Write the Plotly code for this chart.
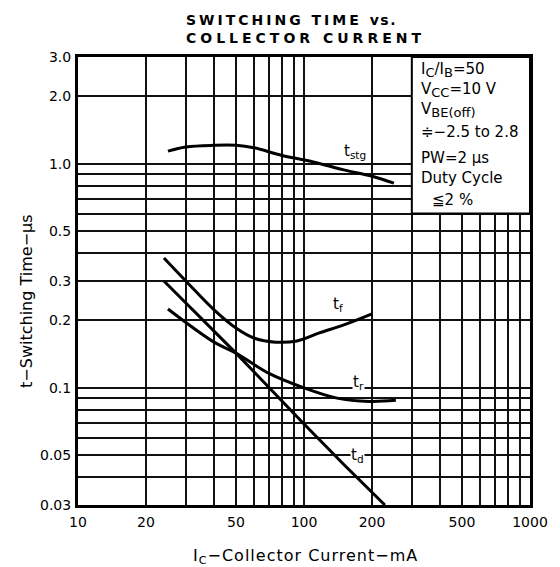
import numpy as np
import plotly.graph_objects as go

# ---- data (Ic in mA, t in microseconds) ----
ic_stg = [25, 30, 40, 50, 60, 80, 110, 150, 200, 250]
t_stg = [1.14, 1.19, 1.21, 1.21, 1.18, 1.09, 1.02, 0.94, 0.88, 0.82]

ic_f = [24, 30, 40, 50, 60, 75, 93, 117, 150, 200]
t_f = [0.38, 0.30, 0.223, 0.185, 0.167, 0.160, 0.162, 0.176, 0.191, 0.214]

ic_r = [25, 40, 50, 70, 100, 140, 195, 255]
t_r = [0.225, 0.160, 0.143, 0.116, 0.100, 0.090, 0.087, 0.088]

ic_d = [24, 50, 100, 150, 228]
t_d = [0.30, 0.143, 0.069, 0.0455, 0.030]

x_grid = [10, 20, 30, 40, 50, 60, 70, 80, 90, 100,
          200, 300, 400, 500, 600, 700, 800, 900, 1000]
x_tickvals = [10, 20, 50, 100, 200, 500, 1000]
x_ticktext = ["10", "20", "50", "100", "200", "500", "1000"]
y_grid = [0.03, 0.04, 0.05, 0.06, 0.07, 0.08, 0.09, 0.1,
          0.2, 0.3, 0.4, 0.5, 0.6, 0.7, 0.8, 0.9, 1.0, 2.0, 3.0]
y_tickvals = [0.03, 0.05, 0.1, 0.2, 0.3, 0.5, 1.0, 2.0, 3.0]
y_ticktext = ["0.03", "0.05", "0.1", "0.2", "0.3", "0.5", "1.0", "2.0", "3.0"]

curve_labels = [("t<sub>stg</sub>", 168, 1.13),
                ("t<sub>f</sub>", 141, 0.236),
                ("t<sub>r</sub>", 175, 0.106),
                ("t<sub>d</sub>", 172, 0.050)]


def big_sub(s):
    return '<sub><span style="font-size:13px">' + s + '</span></sub>'


cond_lines = ["I" + big_sub("C") + "/I" + big_sub("B") + "=50",
              "V" + big_sub("CC") + "=10 V",
              "V" + big_sub("BE(off)"),
              "≑−2.5 to 2.8",
              "PW=2 μs",
              "Duty Cycle",
              "≦2 %"]
box_x = (300, 1000)
box_y = (0.6, 3.0)


def spaced(s, px):
    return '<span style="letter-spacing:%.1fpx">%s</span>' % (px, s)


title_lines = [spaced("SWITCHING TIME ", 3.0) + spaced("vs.", 1.5),
               spaced("COLLECTOR CURRENT", 4.0)]
x_title = "I<sub>C</sub>−Collector Current−mA"
y_title = "t−Switching Time−μs"

# ---- figure ----
FONT = "DejaVu Sans"
W, H = 560, 567
L, R, T, B = 78, 22, 57, 62
pw, ph = W - L - R, H - T - B
xr = [np.log10(10), np.log10(1000)]
yr = [np.log10(0.03), np.log10(3.0)]


def px_to_paper_y(py):
    return (H - B - py) / ph


def px_to_paper_x(px):
    return (px - L) / pw


fig = go.Figure()
line_style = dict(color="black", width=3)
fig.add_trace(go.Scatter(x=ic_stg, y=t_stg, mode="lines", line=dict(shape="spline", smoothing=1.0, **line_style)))
fig.add_trace(go.Scatter(x=ic_f, y=t_f, mode="lines", line=dict(shape="spline", smoothing=1.0, **line_style)))
fig.add_trace(go.Scatter(x=ic_r, y=t_r, mode="lines", line=dict(shape="spline", smoothing=1.0, **line_style)))
fig.add_trace(go.Scatter(x=ic_d, y=t_d, mode="lines", line=dict(shape="linear", **line_style)))

# condition box (covers grid in the upper right)
bx0 = (np.log10(box_x[0]) - xr[0]) / (xr[1] - xr[0])
bx1 = (np.log10(box_x[1]) - xr[0]) / (xr[1] - xr[0])
by0 = (np.log10(box_y[0]) - yr[0]) / (yr[1] - yr[0])
by1 = (np.log10(box_y[1]) - yr[0]) / (yr[1] - yr[0])
fig.add_shape(type="rect", xref="paper", yref="paper", x0=bx0, x1=bx1, y0=by0, y1=by1,
              fillcolor="white", line=dict(color="black", width=2), layer="above")

annotations = []
for txt, xv, yv in curve_labels:
    annotations.append(dict(x=np.log10(xv), y=np.log10(yv), xref="x", yref="y", text=txt,
                            showarrow=False, font=dict(family=FONT, size=15, color="black"),
                            bgcolor="white", borderpad=0))

cond_y_px = [70, 90, 110, 132, 158, 178, 200]
cond_x_px = [425, 425, 425, 425, 425, 425, 436]
for txt, yp, xp in zip(cond_lines, cond_y_px, cond_x_px):
    annotations.append(dict(x=px_to_paper_x(xp), y=px_to_paper_y(yp), xref="paper", yref="paper",
                            text=txt, showarrow=False, xanchor="left", yanchor="middle",
                            font=dict(family=FONT, size=15, color="black")))

for txt, yp in zip(title_lines, [20, 38]):
    annotations.append(dict(x=px_to_paper_x(186), y=px_to_paper_y(yp), xref="paper", yref="paper",
                            text=txt, showarrow=False, xanchor="left", yanchor="middle",
                            font=dict(family=FONT, size=14, color="black", weight="bold")))

annotations.append(dict(x=px_to_paper_x(310), y=px_to_paper_y(556), xref="paper", yref="paper",
                        text=spaced(x_title, 1.0),
                        showarrow=False, xanchor="center", yanchor="middle",
                        font=dict(family=FONT, size=16, color="black")))
annotations.append(dict(x=px_to_paper_x(25), y=px_to_paper_y(301), xref="paper", yref="paper",
                        text=y_title, showarrow=False, xanchor="center", yanchor="middle",
                        textangle=-90, font=dict(family=FONT, size=16, color="black")))

grid_style = dict(gridcolor="#111111", gridwidth=1.5)


def axis(rng, tickvals, ticktext, grid, standoff):
    return dict(type="log", range=rng, tickmode="array", tickvals=tickvals, ticktext=ticktext,
                showgrid=True, **grid_style,
                minor=dict(tickmode="array", tickvals=grid, showgrid=True, ticks="", **grid_style),
                showline=True, linecolor="black", linewidth=3, mirror=True,
                ticks="", zeroline=False, ticklabelstandoff=standoff,
                tickfont=dict(family=FONT, size=14, color="black"))


fig.update_layout(
    width=W, height=H, margin=dict(l=L, r=R, t=T, b=B, pad=0),
    paper_bgcolor="white", plot_bgcolor="white", showlegend=False,
    xaxis=axis(xr, x_tickvals, x_ticktext, x_grid, 2),
    yaxis=axis(yr, y_tickvals, y_ticktext, y_grid, 1),
    annotations=annotations,
)

fig.write_html("out.html", config={"displayModeBar": False},
               post_script="document.body.style.margin='0';")
